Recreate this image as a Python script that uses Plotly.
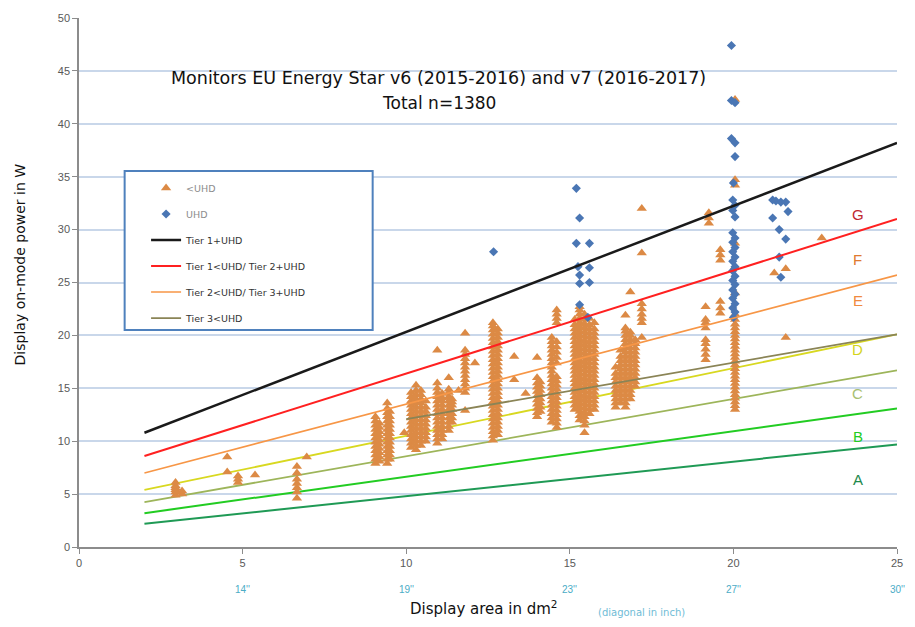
import plotly.graph_objects as go

# ---------------- data ----------------
# <UHD monitors: columns of points (display area dm², list of on-mode power W)
lt_uhd_col_x = [2.95, 3.15, 4.53, 4.86, 5.38, 6.66, 6.96,
                9.06, 9.18, 9.42, 9.5, 9.94,
                10.15, 10.3, 10.45, 10.6, 10.95, 11.1, 11.3, 11.4,
                11.6, 11.8, 12.1, 12.65, 12.8, 13.3, 13.65,
                14.0, 14.1, 14.45, 14.6,
                15.15, 15.3, 15.45, 15.6, 15.75,
                16.4, 16.55, 16.7, 16.85, 17.0, 17.2,
                19.15, 19.25, 19.6, 20.05, 21.25, 21.6, 22.7]
lt_uhd_col_y = [
    [4.9, 5.2, 5.4, 5.6, 5.8, 6.1],
    [5.0, 5.3],
    [7.1, 8.5],
    [6.1, 6.4, 6.7],
    [6.8],
    [4.6, 5.2, 5.6, 6.0, 6.4, 7.0, 7.6],
    [8.5],
    [7.9, 8.3, 8.7, 9.1, 9.5, 9.9, 10.3, 10.7, 11.1, 11.5, 11.9, 12.3],
    [8.1, 8.5, 8.9, 9.3, 9.7, 10.1, 10.5, 10.9, 11.3, 11.7],
    [7.9, 8.3, 8.7, 9.1, 9.5, 9.9, 10.3, 10.7, 11.1, 11.5, 11.9, 12.3, 12.7, 13.1, 13.6],
    [8.3, 8.7, 9.1, 9.5, 9.9, 10.3, 10.7, 11.1, 11.5, 11.9, 12.3, 12.8],
    [10.8],
    [9.4, 9.8, 10.2, 10.6, 11.0, 11.4, 11.8, 12.2, 12.6, 13.0, 13.4, 13.8, 14.2, 14.6],
    [9.2, 9.6, 10.0, 10.4, 10.8, 11.2, 11.6, 12.0, 12.4, 12.8, 13.2, 13.6, 14.0, 14.4, 14.8, 15.3],
    [9.6, 10.0, 10.4, 10.8, 11.2, 11.6, 12.0, 12.4, 12.8, 13.2, 13.6, 14.0, 14.4, 14.8],
    [10.0, 10.4, 10.8, 11.2, 11.6, 12.0, 12.4, 12.8, 13.2, 13.8],
    [9.8, 10.2, 10.6, 11.0, 11.4, 11.8, 12.2, 12.6, 13.0, 13.4, 13.8, 14.2, 14.6, 15.0, 15.5, 18.6],
    [10.2, 10.6, 11.0, 11.4, 11.8, 12.2, 12.6, 13.0, 13.4, 13.8, 14.1, 14.5],
    [11.0, 11.4, 11.8, 12.2, 12.6, 13.0, 13.4, 13.8, 14.2, 14.6, 14.9, 16.0],
    [11.8, 12.2, 12.6, 13.0, 13.4, 13.7, 14.0],
    [14.8],
    [12.9, 14.6, 15.0, 15.4, 15.8, 16.2, 16.6, 17.0, 17.4, 17.8, 18.2, 18.6, 20.2],
    [17.4],
    [10.1, 10.5, 10.9, 11.3, 11.7, 12.1, 12.5, 12.9, 13.3, 13.7, 14.1, 14.5, 14.9, 15.3,
     15.7, 16.1, 16.5, 16.9, 17.3, 17.7, 18.1, 18.5, 18.9, 19.3, 19.7, 20.1, 20.5, 20.9, 21.2],
    [10.6, 11.0, 11.4, 11.8, 12.2, 12.6, 13.0, 13.4, 13.8, 14.2, 14.6, 15.0, 15.4, 15.8,
     16.2, 16.6, 17.0, 17.4, 17.8, 18.2, 18.6, 19.0, 19.4, 19.8, 20.2, 20.6],
    [15.8, 18.0],
    [14.5],
    [12.3, 12.7, 13.1, 13.5, 13.9, 14.3, 14.7, 15.1, 15.5, 16.0, 17.9],
    [12.8, 13.2, 13.6, 14.0, 14.4, 14.8, 15.2, 15.6],
    [11.8, 12.2, 12.6, 13.0, 13.4, 13.8, 14.2, 14.6, 15.0, 15.4, 15.8, 16.2, 16.6, 17.0,
     17.4, 17.8, 18.2, 18.6, 19.0, 19.4, 19.8],
    [11.3, 11.7, 12.1, 12.5, 12.9, 13.3, 13.7, 14.1, 14.5, 14.9, 15.3, 15.7, 16.1, 17.4,
     17.9, 18.4, 18.9, 19.4, 21.2, 21.6, 22.0, 22.4],
    [13.0, 13.4, 13.8, 14.2, 14.6, 15.0, 15.4, 15.8, 16.2, 16.6, 17.0, 17.4, 17.8, 18.2,
     18.6, 19.0, 19.4, 19.8, 20.2, 20.6, 21.0, 21.5],
    [12.0, 12.4, 12.8, 13.2, 13.6, 14.0, 14.4, 14.8, 15.2, 15.6, 16.0, 16.4, 16.8, 17.2,
     17.6, 18.0, 18.4, 18.8, 19.2, 19.6, 20.0, 20.4, 20.8, 21.2, 21.6, 22.0, 22.4, 22.7],
    [10.8, 11.5, 11.9, 12.3, 12.7, 13.1, 13.5, 13.9, 14.3, 14.7, 15.1, 15.5, 15.9, 16.3,
     16.7, 17.1, 17.5, 17.9, 18.3, 18.7, 19.1, 19.5, 19.9, 20.3, 20.7, 21.1, 21.5, 22.0],
    [12.6, 13.0, 13.4, 13.8, 14.2, 14.6, 15.0, 15.4, 15.8, 16.2, 16.6, 17.0, 17.4, 17.8,
     18.2, 18.6, 19.0, 19.4, 19.8, 20.2, 20.6, 21.0, 21.6],
    [13.0, 13.4, 13.8, 14.2, 14.6, 15.0, 15.4, 15.8, 16.2, 16.6, 17.0, 17.4, 17.8, 18.2,
     18.6, 19.0, 19.4, 19.8, 20.2, 20.6, 21.2],
    [13.2, 13.6, 14.0, 14.4, 14.8, 15.2, 15.6, 16.0, 16.4, 17.0],
    [13.6, 14.0, 14.4, 14.8, 15.2, 15.6, 16.0, 16.4, 16.8, 17.2, 17.6, 18.0, 18.6],
    [13.2, 13.6, 14.0, 14.4, 14.8, 15.2, 15.6, 16.0, 16.4, 16.8, 17.2, 17.6, 18.0, 18.4,
     18.8, 19.2, 19.6, 20.0, 20.4, 20.7, 21.9],
    [14.0, 14.4, 14.8, 15.2, 15.6, 16.0, 16.4, 16.8, 17.2, 17.6, 18.0, 18.4, 18.8, 19.2,
     19.6, 20.0, 20.3, 24.1],
    [15.2, 15.6, 16.0, 16.4, 16.8, 17.2, 17.6, 18.0, 18.4, 18.8, 19.2, 19.6],
    [19.8, 21.2, 21.6, 22.0, 22.5, 23.0, 27.8, 32.0],
    [17.7, 18.2, 18.7, 19.2, 19.6, 20.7, 21.2, 21.5, 22.7],
    [30.6, 31.1, 31.6],
    [22.1, 22.6, 23.2, 27.1, 27.6, 28.1],
    [13.0, 13.35, 13.7, 14.05, 14.4, 14.75, 15.1, 15.45, 15.8, 16.15, 16.5, 16.85, 17.2,
     17.55, 17.9, 18.25, 18.6, 18.95, 19.3, 19.65, 20.0, 20.35, 20.7, 21.05, 21.5, 22.0,
     24.0, 26.5, 28.7, 34.2, 34.7, 42.3],
    [25.9],
    [26.3, 19.8],
    [29.2],
]

# UHD monitors
uhd_x = [12.67, 15.2, 15.3, 15.2, 15.6, 15.25, 15.6, 15.3, 15.3, 15.6, 15.3, 15.55,
         19.94, 19.94, 20.05, 19.94, 20.05, 20.05, 20.0, 19.98, 20.05, 19.98, 20.05,
         19.98, 20.05, 19.98, 20.05, 19.98, 20.05, 19.98, 20.05, 19.98, 20.05, 19.98,
         20.05, 19.98, 20.05, 19.98, 20.05, 19.98, 20.05, 20.0,
         21.2, 21.3, 21.45, 21.6, 21.67, 21.2, 21.4, 21.6, 21.4, 21.45]
uhd_y = [27.9, 33.9, 31.1, 28.7, 28.7, 26.5, 26.4, 25.7, 24.9, 25.0, 22.9, 21.7,
         47.4, 42.2, 42.0, 38.6, 38.2, 36.9, 34.4, 32.8, 32.3, 31.8, 31.2,
         29.7, 29.2, 28.8, 28.3, 27.9, 27.4, 27.0, 26.5, 26.1, 25.6, 25.2,
         24.8, 24.3, 23.9, 23.5, 23.0, 22.6, 22.2, 21.7,
         32.8, 32.7, 32.6, 32.6, 31.7, 31.1, 30.0, 29.1, 27.4, 25.5]

# Limit lines (area dm², power W)
tier1_uhd_x = [2, 25];   tier1_uhd_y = [10.8, 38.2]
tier1_t2_x = [2, 25];    tier1_t2_y = [8.6, 31.0]
tier2_t3_x = [2, 25];    tier2_t3_y = [7.0, 25.7]
class_d_x = [2, 25];     class_d_y = [5.4, 20.1]
tier3_x = [10, 25];      tier3_y = [12.08, 20.1]
class_c_x = [2, 25];     class_c_y = [4.25, 16.7]
class_b_x = [2, 25];     class_b_y = [3.2, 13.1]
class_a_x = [2, 25];     class_a_y = [2.2, 9.7]

class_labels = ["G", "F", "E", "D", "C", "B", "A"]
class_label_y = [31.4, 27.2, 23.3, 18.7, 14.5, 10.4, 6.4]
class_label_colors = ["#c0282e", "#e07a30", "#f08a40", "#d4d41c", "#a8c070", "#22cc22", "#1f8a4c"]

x_ticks = [0, 5, 10, 15, 20, 25]
diag_ticks = [5, 10, 15, 20, 25]
diag_labels = ["14''", "19''", "23''", "27''", "30''"]

# ---------------- figure ----------------
lt_x, lt_y = [], []
for cx, ys in zip(lt_uhd_col_x, lt_uhd_col_y):
    for v in ys:
        lt_x.append(cx)
        lt_y.append(v)

FONT = "Liberation Sans"
WIDE = "DejaVu Sans"
fig = go.Figure()

def line(x, y, color, width, name=None, show=False, group=None):
    fig.add_trace(go.Scatter(x=x, y=y, mode="lines", line=dict(color=color, width=width),
                             name=name, showlegend=show, legendgroup=group, hoverinfo="skip"))

line(class_a_x, class_a_y, "#1f9a55", 2)
line(class_b_x, class_b_y, "#22cc22", 2)
line(class_c_x, class_c_y, "#9db55a", 1.8)
line(class_d_x, class_d_y, "#d8d820", 1.8)

fig.add_trace(go.Scatter(x=lt_x, y=lt_y, mode="markers", name='<span style="color:#8c8c8c">&lt;UHD</span>',
                         marker=dict(symbol="triangle-up", size=9, color="#dc8a45"),
                         legendgroup="a"))
fig.add_trace(go.Scatter(x=uhd_x, y=uhd_y, mode="markers", name='<span style="color:#8c8c8c">UHD</span>',
                         marker=dict(symbol="diamond", size=7, color="#4a76b4"),
                         legendgroup="b"))

line(tier1_uhd_x, tier1_uhd_y, "#1a1a1a", 2.5, "Tier 1+UHD", True, "c")
line(tier1_t2_x, tier1_t2_y, "#ff2020", 2, "Tier 1<UHD/ Tier 2+UHD", True, "d")
line(tier2_t3_x, tier2_t3_y, "#f79646", 1.6, "Tier 2<UHD/ Tier 3+UHD", True, "e")
line(tier3_x, tier3_y, "#8a8456", 1.8, "Tier 3<UHD", True, "f")

# legend box
fig.add_shape(type="rect", xref="paper", yref="paper", x0=0.0558, x1=0.359, y0=0.41, y1=0.711,
              line=dict(color="#4f81bd", width=2), fillcolor="white", layer="above")

ann = []
ann.append(dict(x=11, y=44.3, xref="x", yref="y", text="Monitors EU Energy Star v6 (2015-2016) and v7 (2016-2017)",
                showarrow=False, font=dict(size=17.5, color="#111", family=WIDE)))
ann.append(dict(x=11, y=42.0, xref="x", yref="y", text="Total n=1380",
                showarrow=False, font=dict(size=17, color="#111", family=WIDE)))
for lab, yy, col in zip(class_labels, class_label_y, class_label_colors):
    ann.append(dict(x=23.8, y=yy, xref="x", yref="y", text=lab, showarrow=False,
                    font=dict(size=15, color=col, family=FONT)))
for xv, lab in zip(diag_ticks, diag_labels):
    ann.append(dict(x=xv, y=-0.081, xref="x", yref="paper", yanchor="middle", text=lab,
                    showarrow=False, font=dict(size=10, color="#4bacc6", family=FONT)))
ann.append(dict(x=0.402, y=-0.115, xref="paper", yref="paper", xanchor="left", yanchor="middle",
                text="Display area in dm<sup>2</sup>", showarrow=False,
                font=dict(size=15, color="#111", family=WIDE)))
ann.append(dict(x=0.632, y=-0.123, xref="paper", yref="paper", xanchor="left", yanchor="middle",
                text="(diagonal in inch)", showarrow=False,
                font=dict(size=10, color="#6fbcd6", family=WIDE)))
ann.append(dict(x=-0.0716, y=0.535, xref="paper", yref="paper", xanchor="center", yanchor="middle",
                textangle=-90, text="Display on-mode power in W", showarrow=False,
                font=dict(size=14, color="#111", family=WIDE)))

fig.update_layout(
    width=915, height=627,
    margin=dict(l=79, r=12, t=18, b=80),
    paper_bgcolor="white", plot_bgcolor="white",
    font=dict(family=FONT, color="#595959"),
    annotations=ann,
    legend=dict(x=0.082, y=0.706, xanchor="left", yanchor="top", bgcolor="rgba(0,0,0,0)",
                borderwidth=0, tracegroupgap=7, font=dict(size=9.5, color="#333", family=WIDE)),
    xaxis=dict(range=[0, 25], tickvals=x_ticks, showgrid=False, zeroline=False,
               showline=True, linecolor="#8c8c8c", linewidth=1.5, ticks="outside",
               ticklen=5, tickcolor="#8c8c8c", tickfont=dict(size=11, color="#595959")),
    yaxis=dict(range=[0, 50], dtick=5, showgrid=True, gridcolor="#c9d7ea", gridwidth=2,
               zeroline=False, showline=True, linecolor="#8c8c8c", linewidth=1.5,
               ticks="outside", ticklen=5, tickcolor="#8c8c8c",
               tickfont=dict(size=11, color="#595959")),
)

fig.write_html("out.html")
